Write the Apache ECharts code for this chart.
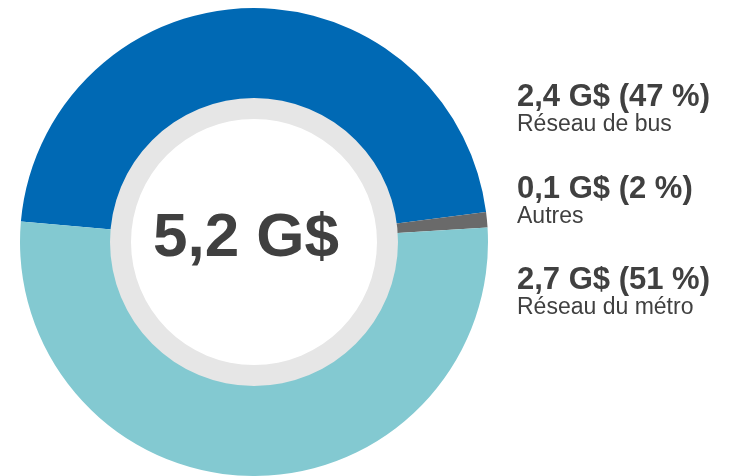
<!DOCTYPE html>
<html>
<head>
<meta charset="utf-8">
<script src="https://cdn.jsdelivr.net/npm/echarts@6/dist/echarts.min.js"></script>
<style>
  html, body { margin: 0; padding: 0; background: #fff; }
  #chart { width: 729px; height: 476px; }
</style>
</head>
<body>
<div id="chart"></div>
<script>
// données
const categories = ['Réseau de bus', 'Autres', 'Réseau du métro'];
const values = [2.4, 0.055, 2.7];            // taille des arcs
const valueLabels = ['2,4 G$ (47 %)', '0,1 G$ (2 %)', '2,7 G$ (51 %)'];
const totalLabel = '5,2 G$';
const colors = ['#0069B4', '#6A6A6A', '#83C9D1'];

const myChart = echarts.init(document.getElementById('chart'));

const pieData = categories.map((name, i) => ({
  name: name,
  value: values[i],
  itemStyle: { color: colors[i] }
}));

const option = {
  animation: false,
  textStyle: { fontFamily: 'Liberation Sans' },
  legend: {
    orient: 'vertical',
    left: 507,
    top: 77,
    itemWidth: 0,
    itemHeight: 0,
    itemGap: 37,
    selectedMode: false,
    data: categories,
    formatter: function (name) {
      const i = categories.indexOf(name);
      return '{v|' + valueLabels[i] + '}\n{n|' + name + '}';
    },
    textStyle: {
      rich: {
        v: { fontSize: 31, fontWeight: 'bold', color: '#404040', lineHeight: 33, fontFamily: 'Liberation Sans' },
        n: { fontSize: 23, color: '#404040', lineHeight: 22, fontFamily: 'Liberation Sans' }
      }
    }
  },
  series: [
    {
      type: 'pie',
      center: [254, 242],
      radius: [140, 234],
      startAngle: 175,
      clockwise: true,
      silent: true,
      label: { show: false },
      labelLine: { show: false },
      data: pieData
    },
    {
      // anneau gris autour du total
      type: 'pie',
      center: [254, 242],
      radius: [123, 144],
      silent: true,
      label: {
        show: true,
        position: 'center',
        formatter: totalLabel,
        fontSize: 62,
        fontWeight: 'bold',
        color: '#404040',
        fontFamily: 'Liberation Sans',
        offset: [-8, -3]
      },
      labelLine: { show: false },
      itemStyle: { color: '#E6E6E6' },
      data: [{ value: 1, name: 'total' }]
    }
  ]
};

myChart.setOption(option);
window.addEventListener('resize', () => myChart.resize());
</script>
</body>
</html>
